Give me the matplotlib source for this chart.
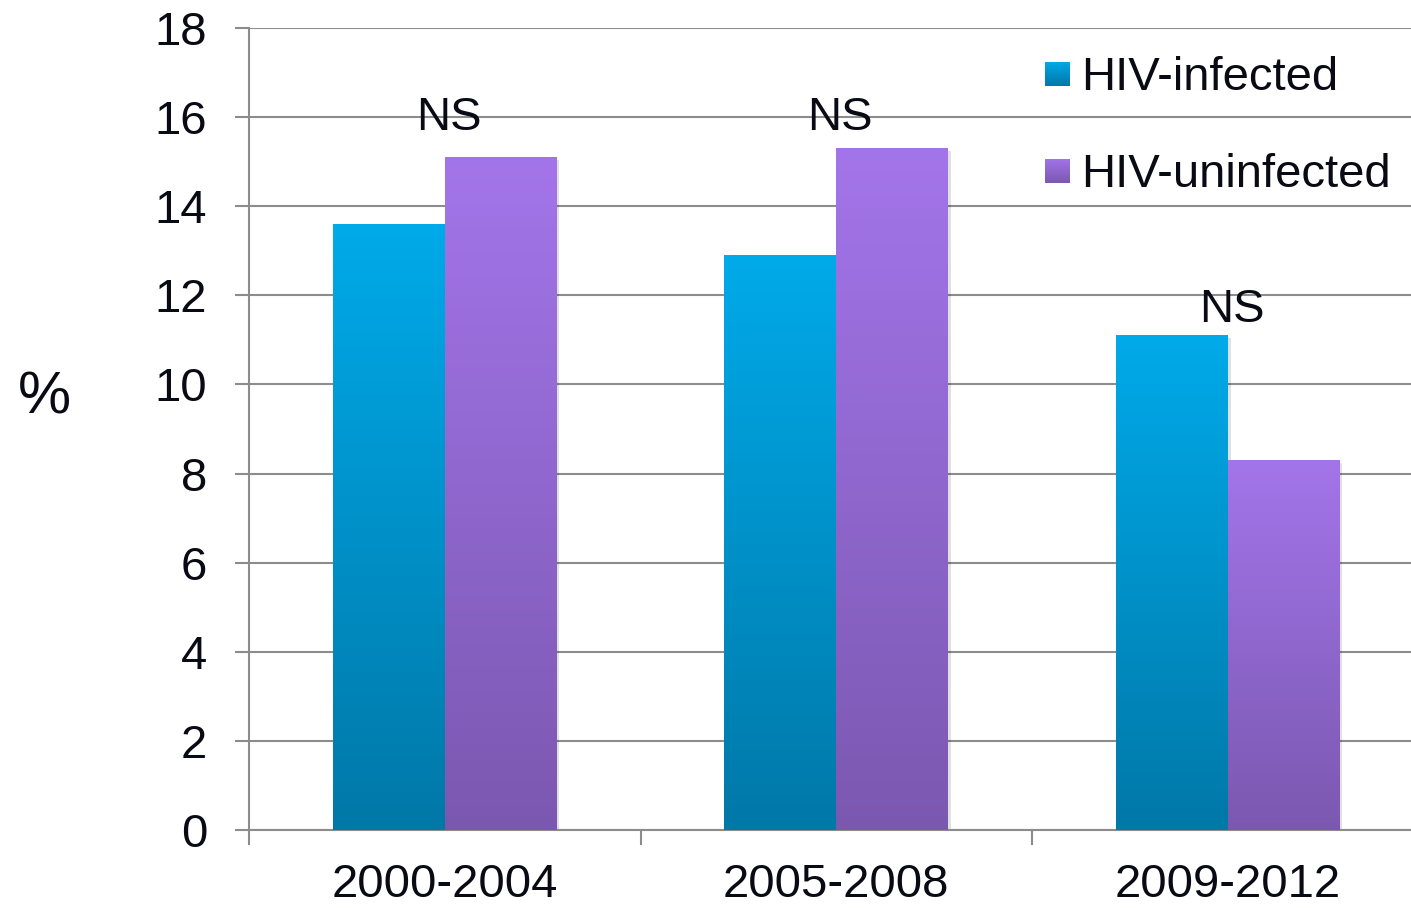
import numpy as np
import matplotlib.pyplot as plt
import matplotlib.patheffects as pe
from matplotlib.colors import LinearSegmentedColormap

plt.rcParams['font.family'] = ['Liberation Sans', 'DejaVu Sans']

periods = ["2000-2004", "2005-2008", "2009-2012"]
infected = [13.6, 12.9, 11.1]
uninfected = [15.1, 15.3, 8.3]
ns_labels = ["NS", "NS", "NS"]
ns_y = [15.7, 15.7, 11.4]

txt = '#0a0a14'
grid_c = '#8c8c8c'
fs = 34

# bottom -> top colour ramps for each series
blue_cmap = LinearSegmentedColormap.from_list('blue', ['#0078a8', '#00aae9'])
purple_cmap = LinearSegmentedColormap.from_list('purple', ['#7b58b0', '#a375ea'])

fig = plt.figure(figsize=(14.11, 9.08), dpi=100)
W, H = 1411, 908
ax = fig.add_axes([249 / W, 78 / H, 1174.5 / W, 802 / H])

x = np.arange(len(periods))
w = 0.286
shadow = [pe.SimplePatchShadow(offset=(2, -2), alpha=0.12, shadow_rgbFace='k'), pe.Normal()]
b1 = ax.bar(x - w / 2, infected, w, color='#00a0dc', zorder=2, path_effects=shadow)
b2 = ax.bar(x + w / 2, uninfected, w, color='#9068d0', zorder=2, path_effects=shadow)

grad = np.linspace(0, 1, 256).reshape(-1, 1)
for bars, cmap in ((b1, blue_cmap), (b2, purple_cmap)):
    for b in bars:
        x0, h, bw = b.get_x(), b.get_height(), b.get_width()
        ax.imshow(grad, cmap=cmap, origin='lower', aspect='auto',
                  extent=[x0, x0 + bw, 0, h], zorder=3, interpolation='bicubic')

for xi, lab, yv in zip(x, ns_labels, ns_y):
    ax.text(xi + 0.01, yv, lab, ha='center', va='baseline', fontsize=fs, color=txt)

ax.set_xlim(-0.5, 2.5)
ax.set_ylim(0, 18)
ax.set_yticks(np.arange(0, 19, 2))
ax.yaxis.grid(True, color=grid_c, lw=1.5)
ax.set_axisbelow(True)
for s in ('top', 'right'):
    ax.spines[s].set_visible(False)
for s in ('left', 'bottom'):
    ax.spines[s].set_color(grid_c)
    ax.spines[s].set_linewidth(1.5)

ax.set_xticks(x)
ax.set_xticklabels(periods)
ax.set_xticks([-0.5, 0.5, 1.5, 2.5], minor=True)
ax.tick_params(axis='x', which='major', length=0, pad=24, labelsize=fs, labelcolor=txt)
ax.tick_params(axis='x', which='minor', length=11, width=1.5, color=grid_c)
ax.tick_params(axis='y', length=10, width=1.5, color=grid_c, pad=20, labelsize=fs, labelcolor=txt)

fig.text(44 / W, 1 - 398 / H, '%', ha='center', va='center', fontsize=43, color=txt)

# legend: gradient swatches + labels
for ypix, cmap, lab in ((74, blue_cmap, 'HIV-infected'), (171, purple_cmap, 'HIV-uninfected')):
    sw = fig.add_axes([1045 / W, 1 - (ypix + 12.5) / H, 25 / W, 25 / H])
    sw.imshow(grad, cmap=cmap, origin='lower', aspect='auto', extent=[0, 1, 0, 1])
    sw.set_axis_off()
    fig.text(1081 / W, 1 - (ypix + 4) / H, lab, ha='left', va='center', fontsize=fs, color=txt)

fig.savefig('out.png', dpi=100)
